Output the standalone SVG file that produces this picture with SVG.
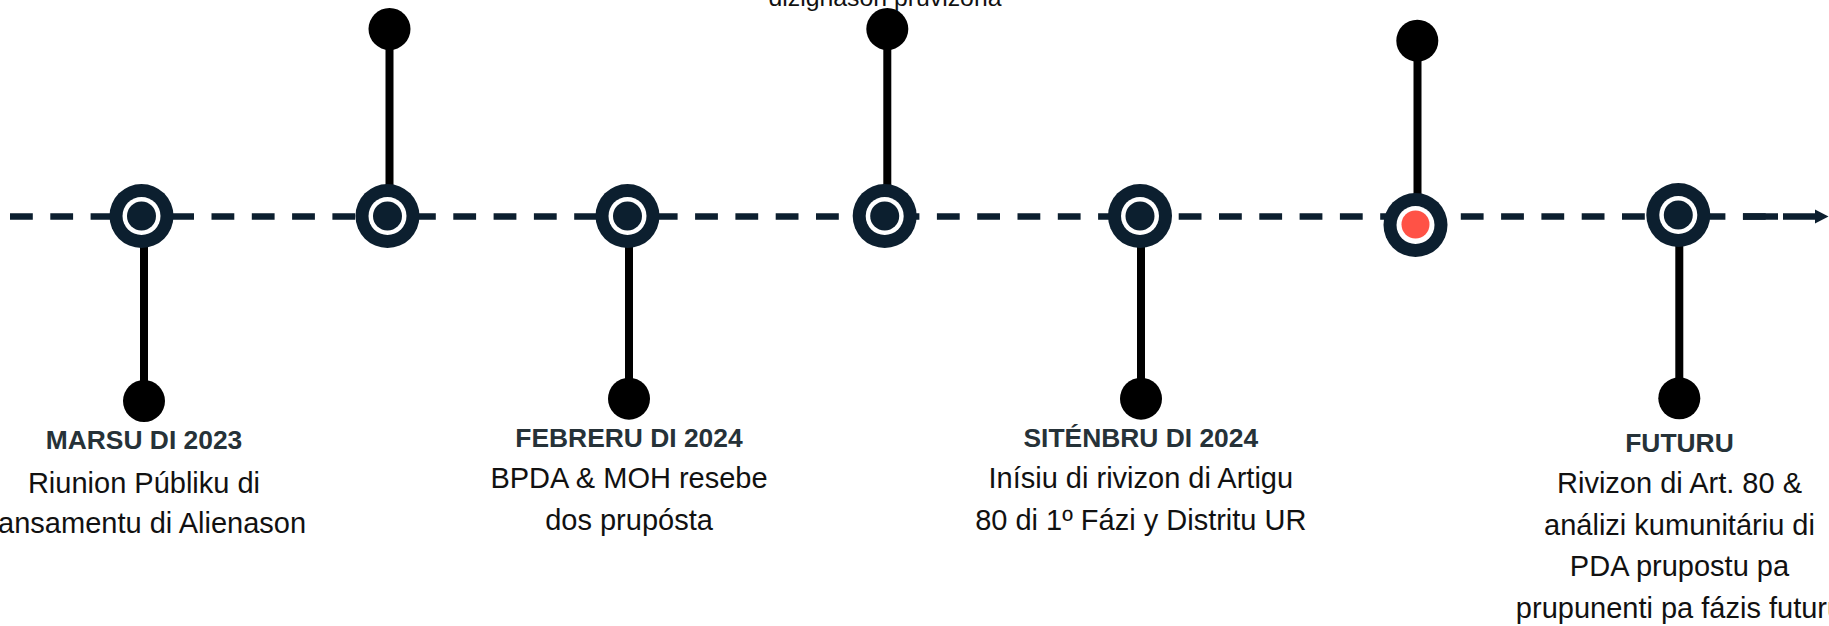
<svg xmlns="http://www.w3.org/2000/svg" width="1829" height="626" viewBox="0 0 1829 626">
<style>
.ring{fill:#0c1f2f}
.gap{fill:#ffffff}
.core{fill:#0c1f2f}
.hot{fill:#ff5246}
.stem{stroke:#000000;stroke-width:8;fill:none}
.dot{fill:#000000}
.title{font-family:"Liberation Sans",Arial,sans-serif;font-weight:bold;font-size:26.4px;fill:#263238;text-anchor:middle}
.body{font-family:"Liberation Sans",Arial,sans-serif;font-size:29px;fill:#111111;text-anchor:middle}
.line{stroke:#0c1f2f;stroke-width:6.5;fill:none}
</style>
<rect width="1829" height="626" fill="#ffffff"/>
<g id="connectors">
<path class="line" d="M10 216.5 H1766" stroke-dasharray="22.8 17.5"/>
<path class="line" d="M1743 216.5 H1778 M1783 216.5 H1817"/>
<polygon points="1815,209.5 1828.5,216.5 1815,223.5" fill="#0c1f2f"/>
</g>
<g id="node-marsu-2023">
<line class="stem" x1="144" y1="216" x2="144" y2="401"/>
<circle class="dot" cx="144" cy="401" r="21"/>
<circle class="ring" cx="141.5" cy="216" r="32"/>
<circle class="gap" cx="141.5" cy="216" r="19"/>
<circle class="core" cx="141.5" cy="216" r="14.5"/>
<text class="title" x="144" y="449">MARSU DI 2023</text>
<text class="body" x="144" y="492.7">Riunion Públiku di</text>
<text class="body" x="144" y="533.3">Lansamentu di Alienason</text>
</g>
<g id="node-2">
<line class="stem" x1="389.5" y1="29" x2="389.5" y2="216"/>
<circle class="dot" cx="389.5" cy="29" r="21"/>
<circle class="ring" cx="387.5" cy="216" r="32"/>
<circle class="gap" cx="387.5" cy="216" r="19"/>
<circle class="core" cx="387.5" cy="216" r="14.5"/>
</g>
<g id="node-febreru-2024">
<line class="stem" x1="629" y1="216" x2="629" y2="398.7"/>
<circle class="dot" cx="629" cy="398.7" r="21"/>
<circle class="ring" cx="627.5" cy="216" r="32"/>
<circle class="gap" cx="627.5" cy="216" r="19"/>
<circle class="core" cx="627.5" cy="216" r="14.5"/>
<text class="title" x="629" y="446.7">FEBRERU DI 2024</text>
<text class="body" x="629" y="488.3">BPDA &amp; MOH resebe</text>
<text class="body" x="629" y="530">dos prupósta</text>
</g>
<g id="node-4">
<line class="stem" x1="887.3" y1="29" x2="887.3" y2="216"/>
<circle class="dot" cx="887.3" cy="29" r="21"/>
<circle class="ring" cx="884.7" cy="216" r="32"/>
<circle class="gap" cx="884.7" cy="216" r="19"/>
<circle class="core" cx="884.7" cy="216" r="14.5"/>
<text class="body" x="885" y="5.5" style="font-size:24.8px">dizignason pruvizória</text>
</g>
<g id="node-sitenbru-2024">
<line class="stem" x1="1141" y1="216" x2="1141" y2="398.7"/>
<circle class="dot" cx="1141" cy="398.7" r="21"/>
<circle class="ring" cx="1140" cy="216" r="32"/>
<circle class="gap" cx="1140" cy="216" r="19"/>
<circle class="core" cx="1140" cy="216" r="14.5"/>
<text class="title" x="1140.8" y="446.7">SITÉNBRU DI 2024</text>
<text class="body" x="1140.8" y="488.3">Inísiu di rivizon di Artigu</text>
<text class="body" x="1140.8" y="530">80 di 1º Fázi y Distritu UR</text>
</g>
<g id="node-current">
<line class="stem" x1="1417.5" y1="40.7" x2="1417.5" y2="225"/>
<circle class="dot" cx="1417.3" cy="40.7" r="21"/>
<circle class="ring" cx="1415.5" cy="225" r="32"/>
<circle class="gap" cx="1415.5" cy="225" r="19"/>
<circle class="hot" cx="1415.5" cy="224.5" r="14"/>
</g>
<g id="node-futuru">
<line class="stem" x1="1679.3" y1="215" x2="1679.3" y2="398.3"/>
<circle class="dot" cx="1679.3" cy="398.3" r="21"/>
<circle class="ring" cx="1678.3" cy="215" r="32"/>
<circle class="gap" cx="1678.3" cy="215" r="19"/>
<circle class="core" cx="1678.3" cy="215" r="14.5"/>
<text class="title" x="1679.5" y="451.7">FUTURU</text>
<text class="body" x="1679.5" y="493.3">Rivizon di Art. 80 &amp;</text>
<text class="body" x="1679.5" y="534.8">análizi kumunitáriu di</text>
<text class="body" x="1679.5" y="576.3">PDA prupostu pa</text>
<text class="body" x="1679.5" y="617.8">prupunenti pa fázis futuru</text>
</g>
</svg>
